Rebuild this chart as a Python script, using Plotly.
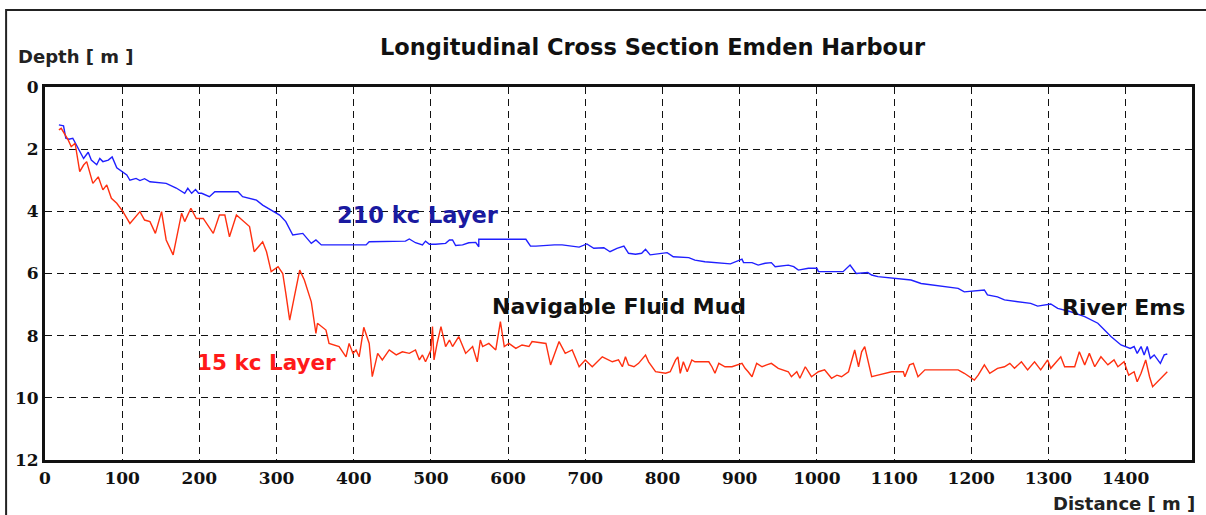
import plotly.graph_objects as go

# 210 kc layer (distance m, depth m)
blue_x = [18, 24, 27, 31, 36, 39, 45, 50, 56, 60, 67, 71, 75, 82, 87, 93, 106, 110, 118, 123, 129, 136,
          157, 170, 181, 185, 190, 195, 199, 203, 213, 220, 250, 256, 274, 282, 304, 312, 321, 334, 345,
          351, 358, 394, 416, 420, 467, 472, 480, 489, 493, 498, 506, 519, 524, 528, 532, 541, 549, 558,
          562, 562, 623, 629, 636, 660, 670, 692, 702, 711, 724, 732, 741, 750, 756, 765, 773, 778, 784,
          806, 814, 834, 842, 855, 888, 903, 905, 916, 924, 933, 941, 946, 963, 970, 976, 989, 1000, 1002,
          1034, 1043, 1051, 1066, 1071, 1079, 1088, 1105, 1122, 1135, 1148, 1166, 1183, 1191, 1217, 1221,
          1234, 1243, 1260, 1277, 1286, 1303, 1312, 1329, 1347, 1364, 1381, 1394, 1406, 1411, 1415, 1420,
          1424, 1428, 1432, 1437, 1445, 1450, 1454]
blue_d = [1.22, 1.25, 1.65, 1.68, 1.65, 1.8, 2.1, 2.3, 2.1, 2.35, 2.5, 2.3, 2.4, 2.35, 2.25, 2.6, 2.83, 3.0,
          2.94, 3.01, 2.95, 3.05, 3.1, 3.25, 3.42, 3.26, 3.42, 3.3, 3.42, 3.42, 3.53, 3.37, 3.37, 3.53, 3.64,
          3.8, 4.12, 4.33, 4.76, 4.71, 5.03, 4.92, 5.08, 5.08, 5.08, 4.98, 4.96, 4.89, 5.01, 5.08, 4.96, 5.06,
          5.06, 5.03, 4.92, 4.92, 5.1, 5.08, 5.01, 5.0, 5.14, 4.9, 4.9, 5.12, 5.12, 5.08, 5.08, 5.15, 5.05,
          5.19, 5.17, 5.3, 5.19, 5.12, 5.35, 5.38, 5.35, 5.22, 5.4, 5.33, 5.46, 5.49, 5.57, 5.62, 5.69, 5.54,
          5.65, 5.65, 5.73, 5.67, 5.65, 5.78, 5.73, 5.78, 5.89, 5.83, 5.83, 5.94, 5.94, 5.73, 6.0, 5.97, 6.05,
          6.1, 6.12, 6.18, 6.21, 6.32, 6.37, 6.42, 6.48, 6.59, 6.53, 6.69, 6.75, 6.85, 6.91, 6.96, 7.05, 6.98,
          7.12, 7.23, 7.39, 7.6, 8.03, 8.3, 8.41, 8.35, 8.57, 8.35, 8.62, 8.35, 8.73, 8.62, 8.89, 8.62, 8.59]

# 15 kc layer (distance m, depth m)
red_x = [18, 21, 30, 34, 39, 45, 50, 54, 62, 69, 75, 80, 86, 93, 101, 110, 123, 129, 136, 143, 151, 157,
         166, 177, 181, 189, 196, 205, 218, 226, 233, 239, 248, 265, 271, 282, 287, 293, 302, 308, 312, 317,
         323, 330, 336, 345, 351, 353, 364, 368, 381, 390, 394, 399, 403, 407, 413, 420, 424, 431, 437, 446,
         455, 463, 472, 480, 485, 489, 493, 500, 502, 504, 508, 513, 519, 524, 528, 536, 545, 554, 560, 564,
         567, 575, 584, 590, 595, 601, 610, 618, 627, 631, 649, 655, 666, 674, 683, 692, 700, 709, 722, 735,
         743, 748, 752, 756, 763, 769, 778, 782, 791, 804, 810, 817, 820, 823, 827, 832, 838, 842, 860, 864,
         868, 873, 881, 890, 903, 907, 911, 916, 922, 929, 935, 941, 950, 963, 967, 974, 978, 985, 993, 1002,
         1010, 1019, 1026, 1032, 1041, 1049, 1054, 1058, 1062, 1066, 1071, 1079, 1088, 1097, 1105, 1112,
         1114, 1120, 1125, 1131, 1140, 1183, 1191, 1204, 1209, 1217, 1224, 1234, 1243, 1250, 1256, 1265,
         1273, 1282, 1290, 1299, 1303, 1316, 1321, 1334, 1340, 1347, 1353, 1360, 1368, 1377, 1385, 1390,
         1398, 1404, 1411, 1415, 1420, 1426, 1431, 1435, 1454]
red_d = [1.38, 1.33, 1.7, 1.92, 1.81, 2.72, 2.51, 2.4, 3.1, 2.89, 3.31, 3.15, 3.58, 3.74, 4.01, 4.39, 4.01,
         4.28, 4.33, 4.71, 4.01, 4.92, 5.4, 4.06, 4.33, 3.9, 4.23, 4.23, 4.71, 4.12, 4.12, 4.82, 4.12, 4.49,
         5.3, 4.98, 5.3, 5.94, 5.78, 6.0, 6.64, 7.5, 6.75, 5.89, 6.21, 6.91, 7.93, 7.6, 7.82, 8.25, 8.35,
         8.68, 8.25, 8.57, 8.46, 8.68, 7.73, 8.25, 9.32, 8.57, 8.78, 8.46, 8.62, 8.52, 8.57, 8.46, 8.78,
         8.62, 8.84, 8.46, 7.71, 8.78, 8.25, 7.71, 8.35, 8.14, 8.35, 8.03, 8.57, 8.35, 8.84, 8.14, 8.35,
         8.25, 8.46, 7.55, 8.35, 8.25, 8.41, 8.3, 8.35, 8.19, 8.25, 8.94, 8.19, 8.57, 8.46, 9.0, 8.78, 9.0,
         8.68, 8.84, 8.78, 9.0, 8.68, 8.94, 9.0, 8.89, 8.62, 8.84, 9.16, 9.21, 9.16, 8.78, 8.68, 9.21, 8.84,
         9.16, 8.78, 8.84, 8.84, 9.0, 9.21, 8.89, 9.0, 9.0, 8.89, 9.05, 9.16, 9.32, 8.89, 9.0, 8.94, 8.89,
         9.05, 9.16, 9.32, 9.16, 9.37, 9.0, 9.32, 9.16, 9.1, 9.37, 9.27, 9.32, 9.16, 8.46, 9.0, 8.52, 8.35,
         8.78, 9.32, 9.27, 9.21, 9.16, 9.16, 9.16, 9.32, 8.94, 8.89, 9.32, 9.1, 9.1, 9.21, 9.43, 9.27, 8.94,
         9.21, 9.05, 9.0, 8.89, 9.05, 8.84, 9.1, 8.84, 9.1, 8.78, 9.05, 8.68, 9.0, 9.0, 8.52, 8.94, 8.57,
         9.0, 8.68, 8.94, 8.78, 9.0, 8.84, 9.27, 9.16, 9.48, 9.21, 8.78, 9.32, 9.64, 9.16]

x_ticks = [0, 100, 200, 300, 400, 500, 600, 700, 800, 900, 1000, 1100, 1200, 1300, 1400]
y_ticks = [0, 2, 4, 6, 8, 10, 12]

title_text = "Longitudinal Cross Section Emden Harbour"
label_blue = "210 kc Layer"
label_red = "15 kc Layer"
label_mud = "Navigable Fluid Mud"
label_river = "River Ems"

fig = go.Figure()
fig.add_trace(go.Scatter(x=blue_x, y=blue_d, mode="lines", line=dict(color="#1f1fff", width=1.4),
                         name=label_blue, hoverinfo="x+y"))
fig.add_trace(go.Scatter(x=red_x, y=red_d, mode="lines", line=dict(color="#ff3010", width=1.4),
                         name=label_red, hoverinfo="x+y"))

tickfont = dict(family="DejaVu Serif", size=17, color="#111", weight="bold")
fig.update_xaxes(range=[0, 1486], tickmode="array", tickvals=x_ticks, showgrid=True,
                 gridcolor="#111", gridwidth=1.3, griddash="7px,5px", zeroline=False,
                 showline=True, linecolor="#111", linewidth=3, mirror=True, ticks="",
                 tickfont=tickfont, ticklabelstandoff=1)
fig.update_yaxes(range=[12, 0], tickmode="array", tickvals=y_ticks, showgrid=True,
                 gridcolor="#111", gridwidth=1.3, griddash="7px,5px", zeroline=False,
                 showline=True, linecolor="#111", linewidth=3, mirror=True, ticks="",
                 tickfont=tickfont, ticklabelstandoff=0)

sans = "DejaVu Sans"
ann = [
    dict(text=title_text, x=655, y=47, size=22.5, color="#111"),
    dict(text="Depth [ m ]", x=76, y=57, size=18, color="#222"),
    dict(text="Distance [ m ]", x=1127, y=503, size=18, color="#222"),
    dict(text=label_blue, x=419, y=215, size=22.5, color="#1a1aa0"),
    dict(text=label_red, x=267, y=362, size=21.5, color="#ff1a1a"),
    dict(text=label_mud, x=621, y=306, size=22, color="#111"),
    dict(text=label_river, x=1126, y=307, size=22, color="#111"),
]
W, H = 1206, 515
L, R, T, B = 45, 11, 87, 55
pw, ph = W - L - R, H - T - B
for a in ann:
    fig.add_annotation(text=a["text"], xref="paper", yref="paper",
                       x=(a["x"] - L) / pw, y=(H - B - a["y"]) / ph,
                       xanchor="center", yanchor="middle", showarrow=False,
                       font=dict(family=sans, size=a["size"], color=a["color"], weight="bold"))

# outer frame
fig.add_shape(type="rect", xref="paper", yref="paper",
              x0=(6 - L) / pw, x1=(1212 - L) / pw, y0=(H - B - 530) / ph, y1=(H - B - 10) / ph,
              line=dict(color="#222", width=2), fillcolor="rgba(0,0,0,0)", layer="below")

fig.update_layout(width=W, height=H, margin=dict(l=L, r=R, t=T, b=B),
                  plot_bgcolor="white", paper_bgcolor="white", showlegend=False)
fig.write_html("out.html")
